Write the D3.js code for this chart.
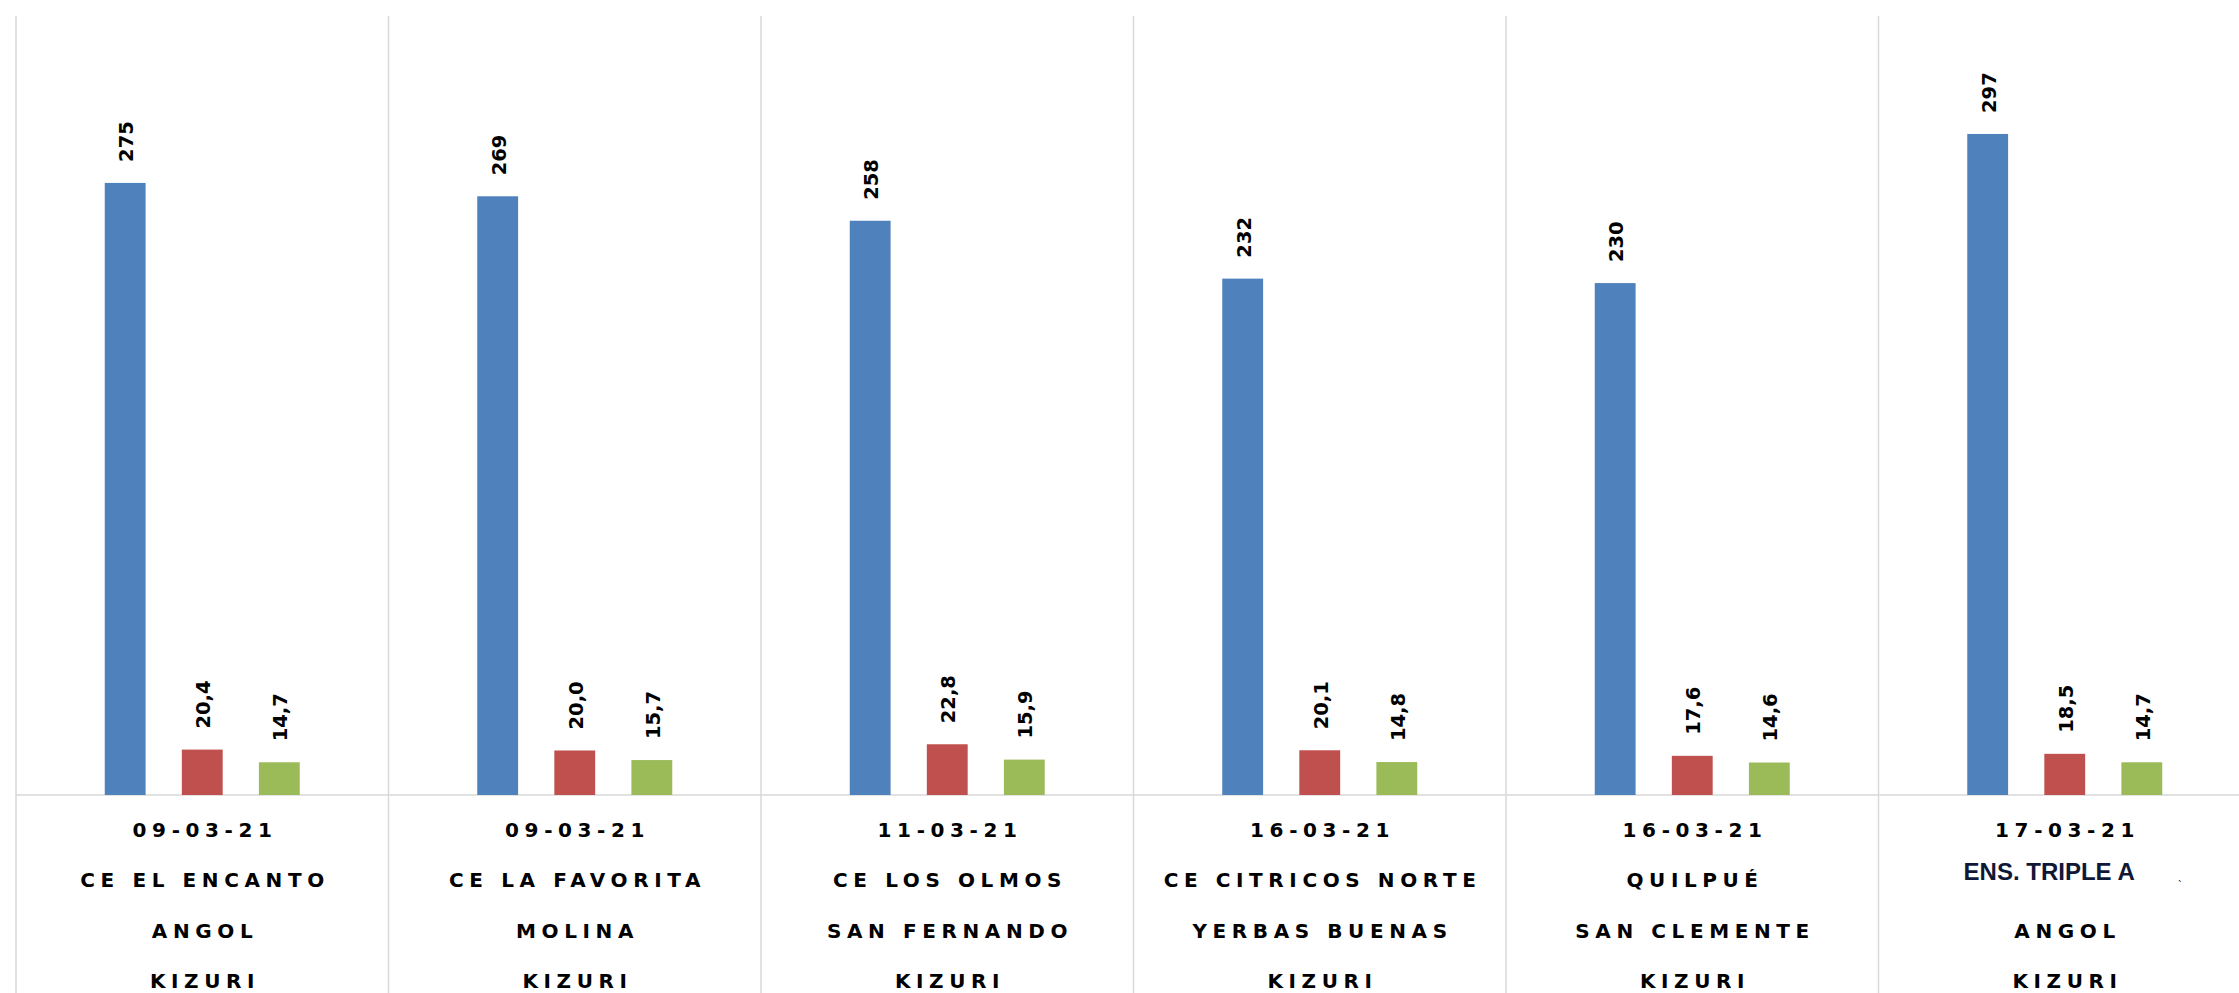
<!DOCTYPE html>
<html>
<head>
<meta charset="utf-8">
<script src="https://cdn.jsdelivr.net/npm/d3@7"></script>
<style>
  html, body { margin: 0; padding: 0; background: #fff; overflow: hidden; }
  svg { display: block; }
  text { font-family: "DejaVu Sans", "Liberation Sans", Arial, sans-serif; font-weight: bold; fill: #000; }
</style>
</head>
<body>
<svg id="chart" width="2239" height="993"></svg>
<script>
// ---- data ----
const dates = ["09-03-21", "09-03-21", "11-03-21", "16-03-21", "16-03-21", "17-03-21"];
const sites = ["CE EL ENCANTO", "CE LA FAVORITA", "CE LOS OLMOS", "CE CITRICOS NORTE", "QUILPUÉ", "ENS. TRIPLE A"];
const towns = ["ANGOL", "MOLINA", "SAN FERNANDO", "YERBAS BUENAS", "SAN CLEMENTE", "ANGOL"];
const varieties = ["KIZURI", "KIZURI", "KIZURI", "KIZURI", "KIZURI", "KIZURI"];
const seriesNames = ["s1", "s2", "s3"];
const series1 = [275, 269, 258, 232, 230, 297];
const series2 = [20.4, 20.0, 22.8, 20.1, 17.6, 18.5];
const series3 = [14.7, 15.7, 15.9, 14.8, 14.6, 14.7];
const seriesDecimals = [0, 1, 1];
const colors = ["#4f81bd", "#c0504d", "#9bbb59"];

const categories = dates.map((d, i) => i);
const seriesValues = [series1, series2, series3];

// ---- layout ----
const svg = d3.select("#chart");
const plotLeft = 16, plotTop = 16, baseline = 795;
const bandW = 372.5;
const plotRight = plotLeft + bandW * categories.length;

const x0 = d3.scaleBand().domain(categories).range([plotLeft, plotRight]).padding(0);
const groupW = 195;
const x1 = d3.scaleBand().domain(seriesNames)
  .range([(x0.bandwidth() - groupW) / 2, (x0.bandwidth() + groupW) / 2])
  .paddingInner(0.47).paddingOuter(0);
const y = d3.scaleLinear().domain([0, 350]).range([baseline, plotTop]);

// grid lines (vertical category separators)
const seps = categories.map(c => x0(c)).concat([plotRight]);
svg.append("g").selectAll("line").data(seps).join("line")
  .attr("x1", d => d).attr("x2", d => d)
  .attr("y1", plotTop).attr("y2", 993)
  .attr("stroke", "#d9d9d9").attr("stroke-width", 1.5);

// baseline
svg.append("line")
  .attr("x1", plotLeft).attr("x2", plotRight)
  .attr("y1", y(0)).attr("y2", y(0))
  .attr("stroke", "#d9d9d9").attr("stroke-width", 1.5);

// bars
const fmt = (v, dec) => d3.format("." + dec + "f")(v).replace(".", ",");
const groups = svg.append("g").selectAll("g").data(categories).join("g")
  .attr("transform", c => `translate(${x0(c)},0)`);

const cells = groups.selectAll("g.cell")
  .data(c => seriesNames.map((s, si) => ({ s, si, v: seriesValues[si][c] })))
  .join("g").attr("class", "cell");

cells.append("rect")
  .attr("x", d => x1(d.s))
  .attr("width", x1.bandwidth())
  .attr("y", d => y(d.v))
  .attr("height", d => y(0) - y(d.v))
  .attr("fill", d => colors[d.si]);

cells.append("text")
  .attr("transform", d => `translate(${x1(d.s) + x1.bandwidth() / 2 + 8},${y(d.v) - 21}) rotate(-90)`)
  .attr("text-anchor", "start")
  .style("font-size", "19.5px")
  .text(d => fmt(d.v, seriesDecimals[d.si]));

// category labels
const lineY = [837, 887, 938, 988];
const lines = [dates, sites, towns, varieties];
const spacing = [5.6, 5.6, 5.6, 5.6];
categories.forEach(c => {
  const cx = x0(c) + x0.bandwidth() / 2;
  lines.forEach((arr, li) => {
    const special = (li === 1 && c === categories.length - 1);
    if (special) {
      svg.append("text")
        .attr("x", cx + 70).attr("y", lineY[li] - 7)
        .attr("text-anchor", "end")
        .style("font-family", "'Liberation Sans', Arial, sans-serif")
        .style("font-size", "24px")
        .style("fill", "#101838")
        .text(arr[c]);
      svg.append("text")
        .attr("x", cx + 113).attr("y", lineY[li] - 8)
        .style("font-size", "10px")
        .style("font-weight", "normal")
        .text("ˎ");
    } else {
      svg.append("text")
        .attr("x", cx + spacing[li] / 2).attr("y", lineY[li])
        .attr("text-anchor", "middle")
        .style("font-size", "20px")
        .style("letter-spacing", spacing[li] + "px")
        .text(arr[c]);
    }
  });
});
</script>
</body>
</html>
